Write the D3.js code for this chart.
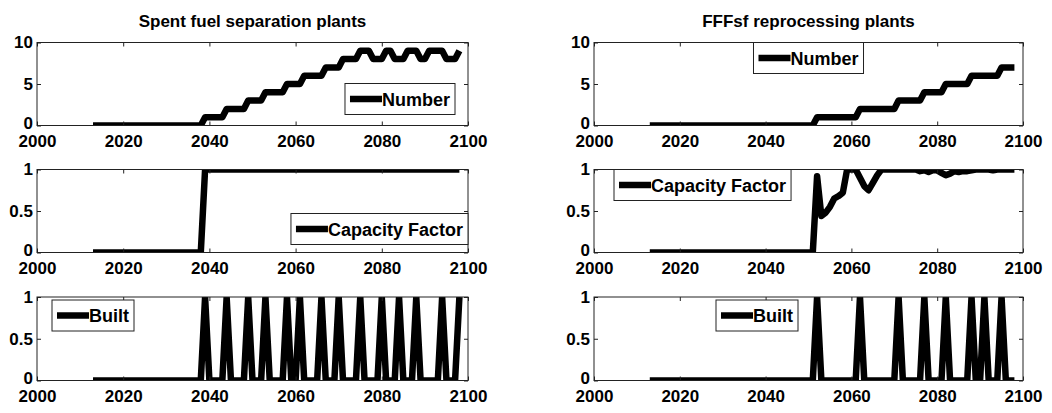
<!DOCTYPE html>
<html>
<head>
<meta charset="utf-8">
<script src="https://cdn.jsdelivr.net/npm/d3@7"></script>
<style>
  body { margin: 0; background: #fff; }
  svg text { font-family: "Liberation Sans", Arial, sans-serif; font-weight: bold; fill: #000; }
</style>
</head>
<body>
<svg id="chart" width="1052" height="413"></svg>
<script>
// years of the simulation, 2013..2098
var years = d3.range(2013, 2099);

var xTicks = [2000, 2020, 2040, 2060, 2080, 2100];
var numberTicks = [0, 5, 10];
var fractionTicks = [0, 0.5, 1];

var titles = ['Spent fuel separation plants', 'FFFsf reprocessing plants'];

// spent fuel separation plants
var sepNumber = [
  0, 0, 0, 0, 0, 0, 0, 0, 0, 0,
  0, 0, 0, 0, 0, 0, 0, 0, 0, 0,
  0, 0, 0, 0, 0, 0, 1, 1, 1, 1,
  1, 2, 2, 2, 2, 2, 3, 3, 3, 3,
  4, 4, 4, 4, 4, 5, 5, 5, 5, 6,
  6, 6, 6, 6, 7, 7, 7, 7, 8, 8,
  8, 8, 9, 9, 9, 8, 8, 8, 9, 9,
  8, 8, 8, 9, 9, 9, 8, 8, 9, 9,
  9, 9, 8, 8, 8, 9
];
var sepCapacity = [
  0, 0, 0, 0, 0, 0, 0, 0, 0, 0,
  0, 0, 0, 0, 0, 0, 0, 0, 0, 0,
  0, 0, 0, 0, 0, 0, 1, 1, 1, 1,
  1, 1, 1, 1, 1, 1, 1, 1, 1, 1,
  1, 1, 1, 1, 1, 1, 1, 1, 1, 1,
  1, 1, 1, 1, 1, 1, 1, 1, 1, 1,
  1, 1, 1, 1, 1, 1, 1, 1, 1, 1,
  1, 1, 1, 1, 1, 1, 1, 1, 1, 1,
  1, 1, 1, 1, 1, 1
];
var sepBuilt = [
  0, 0, 0, 0, 0, 0, 0, 0, 0, 0,
  0, 0, 0, 0, 0, 0, 0, 0, 0, 0,
  0, 0, 0, 0, 0, 0, 1, 0, 0, 0,
  0, 1, 0, 0, 0, 0, 1, 0, 0, 0,
  1, 0, 0, 0, 0, 1, 0, 0, 1, 0,
  0, 0, 0, 1, 0, 0, 0, 1, 0, 0,
  0, 0, 1, 0, 0, 0, 0, 1, 0, 0,
  0, 1, 0, 0, 0, 1, 0, 0, 0, 0,
  0, 1, 0, 0, 0, 1
];

// FFFsf reprocessing plants
var fffNumber = [
  0, 0, 0, 0, 0, 0, 0, 0, 0, 0,
  0, 0, 0, 0, 0, 0, 0, 0, 0, 0,
  0, 0, 0, 0, 0, 0, 0, 0, 0, 0,
  0, 0, 0, 0, 0, 0, 0, 0, 0, 1,
  1, 1, 1, 1, 1, 1, 1, 1, 1, 2,
  2, 2, 2, 2, 2, 2, 2, 2, 3, 3,
  3, 3, 3, 3, 4, 4, 4, 4, 4, 5,
  5, 5, 5, 5, 5, 6, 6, 6, 6, 6,
  6, 6, 7, 7, 7, 7
];
var fffCapacity = [
  0, 0, 0, 0, 0, 0, 0, 0, 0, 0,
  0, 0, 0, 0, 0, 0, 0, 0, 0, 0,
  0, 0, 0, 0, 0, 0, 0, 0, 0, 0,
  0, 0, 0, 0, 0, 0, 0, 0, 0, 0.92,
  0.44, 0.48, 0.55, 0.65, 0.68, 0.72, 1, 1, 1, 0.9,
  0.8, 0.75, 0.84, 0.93, 1, 1, 1, 1, 1, 1,
  1, 1, 1, 0.98, 0.99, 0.97, 0.99, 0.99, 0.96, 0.93,
  0.95, 0.98, 0.97, 0.98, 0.98, 0.99, 1, 1, 1, 1,
  0.99, 1, 1, 1, 1, 1
];
var fffBuilt = [
  0, 0, 0, 0, 0, 0, 0, 0, 0, 0,
  0, 0, 0, 0, 0, 0, 0, 0, 0, 0,
  0, 0, 0, 0, 0, 0, 0, 0, 0, 0,
  0, 0, 0, 0, 0, 0, 0, 0, 0, 1,
  0, 0, 0, 0, 0, 0, 0, 0, 0, 1,
  0, 0, 0, 0, 0, 0, 0, 0, 1, 0,
  0, 0, 0, 0, 1, 0, 0, 0, 0, 1,
  0, 0, 0, 0, 0, 1, 0, 0, 1, 0,
  0, 0, 1, 0, 0, 0
];

// layout
var cols = [{ x0: 37, x1: 468 }, { x0: 594, x1: 1023 }];
var rows = [{ y0: 42.5, y1: 125.5 }, { y0: 169.5, y1: 252.5 }, { y0: 297, y1: 380.5 }];

// legend: anchor of the box inside the axes, in px
var panels = [
  { col: 0, row: 0, values: sepNumber, yMax: 10, yTicks: numberTicks, label: 'Number', legend: { h: 'right', dx: 13, v: 'bottom', dy: 11 } },
  { col: 0, row: 1, values: sepCapacity, yMax: 1, yTicks: fractionTicks, label: 'Capacity Factor', legend: { h: 'right', dx: 0, v: 'bottom', dy: 8 } },
  { col: 0, row: 2, values: sepBuilt, yMax: 1, yTicks: fractionTicks, label: 'Built', legend: { h: 'left', dx: 15, v: 'top', dy: 3 } },
  { col: 1, row: 0, values: fffNumber, yMax: 10, yTicks: numberTicks, label: 'Number', legend: { h: 'center', dx: 0, v: 'top', dy: 0 } },
  { col: 1, row: 1, values: fffCapacity, yMax: 1, yTicks: fractionTicks, label: 'Capacity Factor', legend: { h: 'left', dx: 20, v: 'top', dy: 0 } },
  { col: 1, row: 2, values: fffBuilt, yMax: 1, yTicks: fractionTicks, label: 'Built', legend: { h: 'left', dx: 122, v: 'top', dy: 3 } }
];

var lineWidth = 6.5;
var svg = d3.select('#chart');

// column titles
titles.forEach(function(t, i) {
  svg.append('text')
    .attr('x', (cols[i].x0 + cols[i].x1) / 2)
    .attr('y', rows[0].y0 - 16)
    .attr('text-anchor', 'middle')
    .style('font-size', '17px')
    .text(t);
});

panels.forEach(function(p, i) {
  var c = cols[p.col], r = rows[p.row];
  var x = d3.scaleLinear().domain([2000, 2100]).range([c.x0, c.x1]);
  var y = d3.scaleLinear().domain([0, p.yMax]).range([r.y1, r.y0]);
  var g = svg.append('g');

  // clip so the thick line is cut at the box like matlab does
  svg.append('clipPath').attr('id', 'clip' + i)
    .append('rect')
    .attr('x', c.x0).attr('y', r.y0)
    .attr('width', c.x1 - c.x0).attr('height', r.y1 - r.y0);

  var line = d3.line()
    .x(function(d, k) { return x(years[k]); })
    .y(function(d) { return y(d); });

  g.append('path')
    .datum(p.values)
    .attr('clip-path', 'url(#clip' + i + ')')
    .attr('fill', 'none')
    .attr('stroke', '#000')
    .attr('stroke-width', lineWidth)
    .attr('stroke-linejoin', 'round')
    .attr('d', line);

  // box
  g.append('rect')
    .attr('x', c.x0).attr('y', r.y0)
    .attr('width', c.x1 - c.x0).attr('height', r.y1 - r.y0)
    .attr('fill', 'none')
    .attr('stroke', '#222')
    .attr('stroke-width', 1);

  // axes, ticks pointing inward on all four sides
  function style(a) {
    a.select('.domain').remove();
    a.selectAll('.tick line').attr('stroke', '#222');
    a.selectAll('.tick text')
      .style('font-size', '17px')
      .style('font-family', '"Liberation Sans", Arial, sans-serif')
      .style('font-weight', 'bold')
      .attr('fill', '#000');
  }
  g.append('g').attr('transform', 'translate(0,' + r.y1 + ')')
    .call(d3.axisBottom(x).tickValues(xTicks).tickFormat(d3.format('d')).tickSize(-4).tickPadding(9))
    .call(style);
  g.append('g').attr('transform', 'translate(0,' + r.y0 + ')')
    .call(d3.axisTop(x).tickValues(xTicks).tickFormat('').tickSize(-4))
    .call(style);
  var yAxis = g.append('g').attr('transform', 'translate(' + c.x0 + ',0)')
    .call(d3.axisLeft(y).tickValues(p.yTicks).tickFormat(d3.format('')).tickSize(-4).tickPadding(4))
    .call(style);
  // lift the bottom "0" a touch so it sits just above the year labels
  yAxis.selectAll('.tick text').filter(function(d) { return d === 0; }).attr('dy', '0.2em');
  g.append('g').attr('transform', 'translate(' + c.x1 + ',0)')
    .call(d3.axisRight(y).tickValues(p.yTicks).tickFormat('').tickSize(-4))
    .call(style);

  // legend
  var lg = g.append('g');
  var box = lg.append('rect').attr('fill', '#fff').attr('stroke', '#222').attr('stroke-width', 1);
  var txt = lg.append('text').style('font-size', '18px').attr('x', 37).attr('y', 22).text(p.label);
  lg.append('line')
    .attr('x1', 5).attr('x2', 37).attr('y1', 15.5).attr('y2', 15.5)
    .attr('stroke', '#000').attr('stroke-width', lineWidth);
  var w = 37 + txt.node().getComputedTextLength() + 5, h = 31;
  box.attr('width', w).attr('height', h);
  var lx = p.legend.h === 'left' ? c.x0 + p.legend.dx
         : p.legend.h === 'right' ? c.x1 - p.legend.dx - w
         : (c.x0 + c.x1) / 2 - w / 2 + p.legend.dx;
  var ly = p.legend.v === 'top' ? r.y0 + p.legend.dy : r.y1 - p.legend.dy - h;
  lg.attr('transform', 'translate(' + lx + ',' + ly + ')');
});
</script>
</body>
</html>
